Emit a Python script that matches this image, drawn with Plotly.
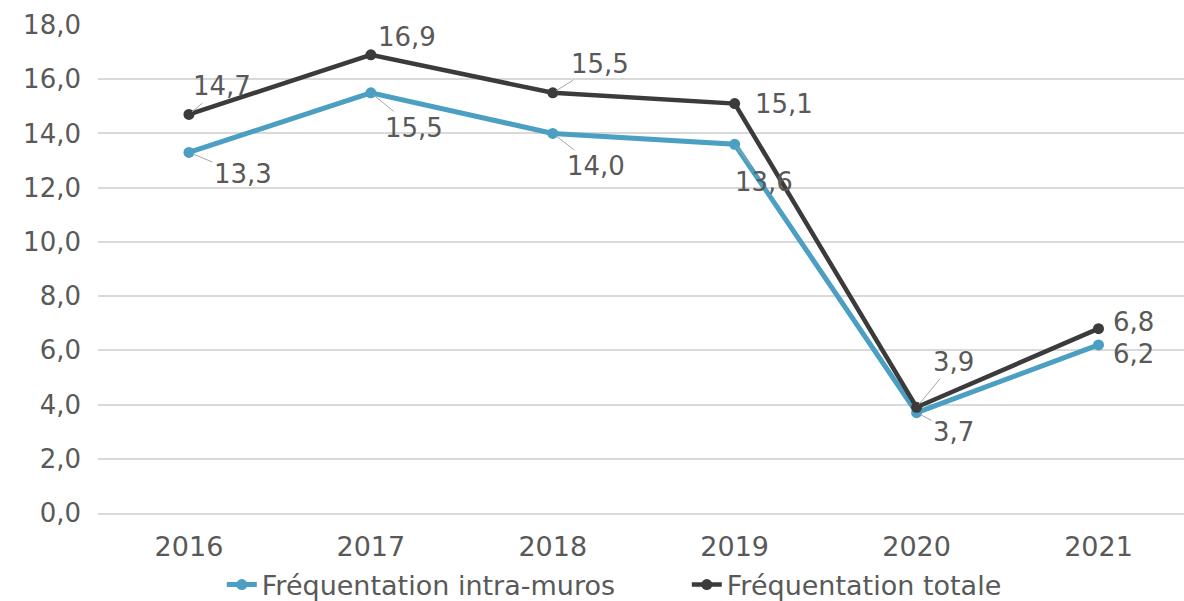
import plotly.graph_objects as go

years = ["2016", "2017", "2018", "2019", "2020", "2021"]
intra = [13.3, 15.5, 14.0, 13.6, 3.7, 6.2]
totale = [14.7, 16.9, 15.5, 15.1, 3.9, 6.8]
name_intra = "Fréquentation intra-muros"
name_totale = "Fréquentation totale"
y_ticks = [0, 2, 4, 6, 8, 10, 12, 14, 16, 18]

# label offsets (pixels): (ax, ay, leader)
off_totale = [(33, -28, True), (36, -18, False), (47, -29, True), (49, 0, False), (37, -45, True), (35, -7, False)]
off_intra = [(54, 22, True), (43, 35, True), (43, 33, True), (29, 38, True), (37, 19, True), (35, 9, False)]

BLUE = "#4A9FC2"
DARK = "#3B3B3B"
TXT = "#595959"
FONT = "DejaVu Sans"

fig = go.Figure()
fig.add_trace(go.Scatter(x=years, y=intra, name=name_intra, mode="lines+markers",
                         line=dict(color=BLUE, width=5), marker=dict(size=11, color=BLUE)))
fig.add_trace(go.Scatter(x=years, y=totale, name=name_totale, mode="lines+markers",
                         line=dict(color=DARK, width=4.5), marker=dict(size=11, color=DARK)))

def fmt(v):
    return f"{v:.1f}".replace(".", ",")

anns = []
for series, offs in ((totale, off_totale), (intra, off_intra)):
    for i, (v, (ax, ay, lead)) in enumerate(zip(series, offs)):
        if lead:
            anns.append(dict(x=i, y=v, xref="x", yref="y", text=fmt(v), showarrow=True,
                             ax=ax, ay=ay, axref="pixel", ayref="pixel",
                             arrowhead=0, arrowwidth=1, arrowcolor="#A6A6A6",
                             standoff=4, font=dict(family=FONT, size=26, color=TXT)))
        else:
            anns.append(dict(x=i, y=v, xref="x", yref="y", text=fmt(v), showarrow=False,
                             xshift=ax, yshift=-ay, font=dict(family=FONT, size=26, color=TXT)))

fig.update_layout(
    width=1184, height=601,
    margin=dict(l=98, r=0, t=25, b=88, autoexpand=False),
    paper_bgcolor="white", plot_bgcolor="white",
    font=dict(family=FONT, size=26, color=TXT),
    showlegend=True,
    legend=dict(orientation="h", x=0.114, xanchor="left", y=-0.1475, yanchor="middle",
                font=dict(family=FONT, size=27, color=TXT), itemwidth=30, entrywidth=420),
    xaxis=dict(type="category", range=[-0.5, 5.47], showgrid=False, showline=True,
               linecolor="#D9D9D9", linewidth=2,
               zeroline=False, ticks="", ticklabelstandoff=9,
               tickfont=dict(family=FONT, size=27, color=TXT)),
    yaxis=dict(range=[0, 18], tickvals=y_ticks, ticktext=[fmt(t) for t in y_ticks],
               showgrid=True, gridcolor="#D9D9D9", gridwidth=2, zeroline=False,
               showline=False, ticks="", ticklabelstandoff=16,
               tickfont=dict(family=FONT, size=26, color=TXT)),
)
for a in anns:
    fig.add_annotation(**a)

fig.write_html("out.html", config={"displayModeBar": False},
               post_script="document.body.style.margin='0';")
